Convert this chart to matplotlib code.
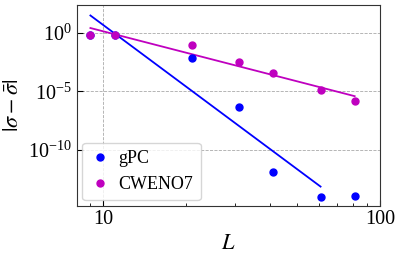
import matplotlib
matplotlib.use("Agg")
import matplotlib.pyplot as plt
from matplotlib.ticker import NullLocator, FixedLocator, FixedFormatter, NullFormatter
import numpy as np

plt.rcParams['font.family'] = ['Liberation Serif', 'DejaVu Serif']
plt.rcParams['mathtext.fontset'] = 'stix'

# data (log10 of error)
L = np.array([9, 11, 21, 31, 41, 61, 81])
log_err_gpc = np.array([-0.17, -0.17, -2.11, -6.34, -11.94, -14.05, -14.02])
log_err_cweno = np.array([-0.17, -0.17, -1.03, -2.51, -3.39, -4.91, -5.83])

err_gpc = 10.0**log_err_gpc
err_cweno = 10.0**log_err_cweno

# log-log fits (gPC without the last point)
p_gpc = np.polyfit(np.log10(L[:-1]), log_err_gpc[:-1], 1)
p_cweno = np.polyfit(np.log10(L), log_err_cweno, 1)

fig = plt.figure(figsize=(4.0, 2.56), dpi=100)
ax = fig.add_axes([0.1925, 0.197, 0.7575, 0.783])

ax.plot(L, err_gpc, 'o', color='b', ms=5, label='gPC', zorder=3)
ax.plot(L, err_cweno, 'o', color='m', ms=5, label='CWENO7', zorder=4)
ax.plot(L[:-1], 10**np.polyval(p_gpc, np.log10(L[:-1])), '-', color='b', lw=1.3)
ax.plot(L, 10**np.polyval(p_cweno, np.log10(L)), '-', color='m', lw=1.3)

ax.set_xscale('log')
ax.set_yscale('log')
ax.set_xlim(8.05, 100)
ax.set_ylim(10**-14.8, 10**2.4)
ax.xaxis.set_major_locator(FixedLocator([10, 100]))
ax.xaxis.set_major_formatter(FixedFormatter(['10', '100']))
ax.xaxis.set_minor_formatter(NullFormatter())
ax.yaxis.set_major_locator(FixedLocator([1e-10, 1e-5, 1e0]))
ax.yaxis.set_minor_locator(NullLocator())

ax.grid(True, which='major', linestyle='--', color='#aaaaaa', lw=0.6)
ax.tick_params(which='both', direction='in', labelsize=14.5)
ax.tick_params(which='major', length=4)
ax.tick_params(which='minor', length=2.5)
for s in ax.spines.values():
    s.set_color('#333333')

ax.set_xlabel(r'$L$', fontsize=16)
ax.set_ylabel(r'$|\sigma-\bar{\sigma}|$', fontsize=16, labelpad=4)

ax.legend(loc='lower left', fontsize=13, handletextpad=0.4, borderaxespad=0.3,
          handlelength=1.2)

fig.savefig('out.png', dpi=100)
